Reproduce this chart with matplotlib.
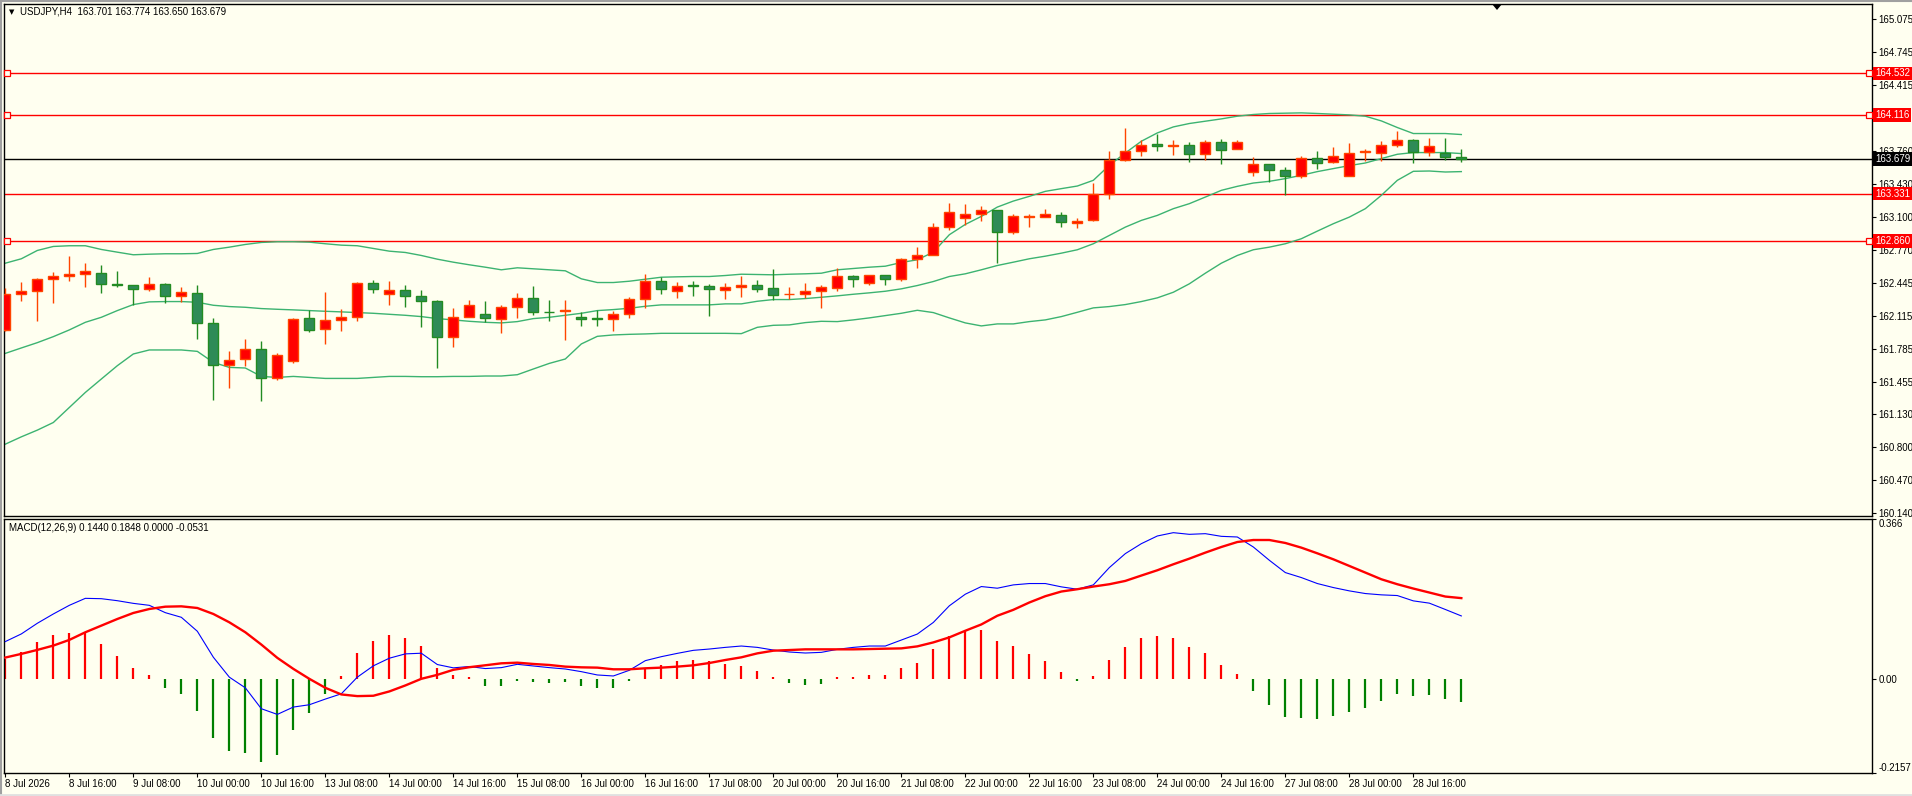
import numpy as np
import matplotlib.pyplot as plt
from matplotlib.patches import Rectangle, Polygon

plt.rcParams['font.family'] = ['Liberation Sans', 'DejaVu Sans']

# ---- USDJPY H4 candles (8 Jul 00:00 .. 29 Jul 04:00) ----
opens = [161.972, 162.332, 162.358, 162.478, 162.508, 162.528, 162.542, 162.435, 162.422, 162.378,
         162.435, 162.308, 162.342, 162.042, 161.618, 161.682, 161.782, 161.495, 161.658, 162.092,
         161.978, 162.072, 162.098, 162.445, 162.328, 162.375, 162.315, 162.265, 161.898, 162.098,
         162.132, 162.082, 162.198, 162.292, 162.152, 162.160, 162.102, 162.088, 162.078, 162.128,
         162.278, 162.465, 162.358, 162.415, 162.412, 162.368, 162.398, 162.422, 162.395, 162.328,
         162.328, 162.358, 162.388, 162.512, 162.438, 162.522, 162.478, 162.678, 162.718, 162.998,
         163.092, 163.132, 163.165, 162.948, 163.098, 163.098, 163.122, 163.038, 163.072, 163.332,
         163.668, 163.762, 163.825, 163.812, 163.822, 163.732, 163.852, 163.782, 163.552, 163.632,
         163.572, 163.512, 163.692, 163.652, 163.512, 163.748, 163.738, 163.822, 163.872, 163.745,
         163.742, 163.701]
highs = [162.392, 162.455, 162.492, 162.552, 162.705, 162.635, 162.615, 162.562, 162.422, 162.505,
         162.442, 162.405, 162.425, 162.095, 161.765, 161.885, 161.865, 161.742, 162.092, 162.172,
         162.355, 162.178, 162.455, 162.475, 162.465, 162.418, 162.375, 162.275, 162.195, 162.275,
         162.265, 162.222, 162.345, 162.415, 162.275, 162.275, 162.148, 162.172, 162.165, 162.298,
         162.535, 162.498, 162.448, 162.465, 162.432, 162.445, 162.515, 162.475, 162.575, 162.405,
         162.445, 162.425, 162.592, 162.525, 162.522, 162.522, 162.692, 162.795, 163.035, 163.235,
         163.225, 163.205, 163.172, 163.132, 163.125, 163.175, 163.145, 163.092, 163.435, 163.755,
         163.985, 163.865, 163.932, 163.865, 163.845, 163.865, 163.875, 163.865, 163.702, 163.632,
         163.598, 163.705, 163.762, 163.795, 163.835, 163.782, 163.855, 163.955, 163.882, 163.885,
         163.885, 163.774]
lows = [161.965, 162.265, 162.058, 162.238, 162.465, 162.405, 162.345, 162.398, 162.225, 162.358,
        162.238, 162.252, 161.878, 161.268, 161.388, 161.615, 161.258, 161.468, 161.638, 161.948,
        161.828, 161.965, 162.058, 162.338, 162.218, 162.205, 162.005, 161.588, 161.805, 162.098,
        162.055, 161.945, 162.088, 162.125, 162.058, 161.875, 162.015, 162.015, 161.965, 162.095,
        162.195, 162.335, 162.295, 162.315, 162.115, 162.285, 162.305, 162.348, 162.272, 162.285,
        162.288, 162.188, 162.365, 162.405, 162.425, 162.418, 162.458, 162.588, 162.718, 162.965,
        163.018, 163.058, 162.638, 162.928, 162.998, 163.098, 162.998, 162.988, 163.058, 163.278,
        163.658, 163.708, 163.758, 163.718, 163.648, 163.672, 163.632, 163.782, 163.508, 163.452,
        163.322, 163.488, 163.578, 163.638, 163.512, 163.658, 163.658, 163.798, 163.638, 163.708,
        163.665, 163.650]
closes = [162.332, 162.362, 162.482, 162.512, 162.535, 162.562, 162.428, 162.418, 162.378, 162.432,
          162.308, 162.352, 162.042, 161.618, 161.672, 161.782, 161.492, 161.722, 162.085, 161.975,
          162.072, 162.102, 162.445, 162.378, 162.372, 162.308, 162.258, 161.898, 162.102, 162.222,
          162.088, 162.202, 162.292, 162.148, 162.148, 162.165, 162.078, 162.083, 162.132, 162.285,
          162.465, 162.378, 162.412, 162.410, 162.378, 162.402, 162.422, 162.378, 162.318, 162.332,
          162.362, 162.402, 162.512, 162.478, 162.522, 162.478, 162.682, 162.722, 163.002, 163.152,
          163.132, 163.165, 162.948, 163.105, 163.102, 163.128, 163.048, 163.062, 163.332, 163.672,
          163.762, 163.822, 163.812, 163.818, 163.732, 163.852, 163.772, 163.852, 163.632, 163.572,
          163.512, 163.692, 163.642, 163.712, 163.742, 163.752, 163.822, 163.872, 163.745, 163.812,
          163.698, 163.679]

# ---- Bollinger bands ----
bb_upper = [162.638, 162.682, 162.765, 162.805, 162.812, 162.812, 162.775, 162.748, 162.722, 162.728,
            162.732, 162.732, 162.735, 162.775, 162.798, 162.825, 162.845, 162.852, 162.852, 162.848,
            162.832, 162.818, 162.812, 162.785, 162.758, 162.745, 162.715, 162.678, 162.648, 162.622,
            162.598, 162.572, 162.592, 162.582, 162.572, 162.562, 162.482, 162.445, 162.445, 162.458,
            162.478, 162.498, 162.502, 162.505, 162.505, 162.515, 162.528, 162.525, 162.522, 162.528,
            162.532, 162.538, 162.572, 162.585, 162.598, 162.608, 162.645, 162.672, 162.748, 162.922,
            163.025, 163.105, 163.198, 163.258, 163.305, 163.355, 163.382, 163.408, 163.465, 163.615,
            163.738, 163.855, 163.938, 163.998, 164.032, 164.055, 164.078, 164.105, 164.122, 164.132,
            164.135, 164.138, 164.132, 164.125, 164.118, 164.105, 164.058, 163.992, 163.932, 163.932,
            163.932, 163.922]
bb_middle = [161.738, 161.792, 161.845, 161.905, 161.972, 162.048, 162.098, 162.165, 162.225, 162.252,
             162.255, 162.255, 162.248, 162.218, 162.205, 162.198, 162.185, 162.178, 162.172, 162.165,
             162.158, 162.152, 162.145, 162.138, 162.128, 162.118, 162.105, 162.085, 162.072, 162.058,
             162.048, 162.042, 162.055, 162.085, 162.098, 162.118, 162.138, 162.165, 162.175, 162.188,
             162.208, 162.222, 162.222, 162.222, 162.222, 162.232, 162.232, 162.258, 162.275, 162.275,
             162.285, 162.298, 162.312, 162.328, 162.342, 162.358, 162.382, 162.415, 162.455, 162.505,
             162.532, 162.572, 162.615, 162.648, 162.682, 162.708, 162.738, 162.772, 162.832, 162.915,
             162.998, 163.065, 163.115, 163.182, 163.232, 163.298, 163.365, 163.405, 163.438, 163.455,
             163.482, 163.515, 163.552, 163.582, 163.612, 163.638, 163.682, 163.725, 163.742, 163.742,
             163.742, 163.732]
bb_lower = [160.832, 160.905, 160.972, 161.048, 161.198, 161.348, 161.482, 161.615, 161.732, 161.772,
            161.772, 161.772, 161.758, 161.648, 161.598, 161.592, 161.508, 161.498, 161.508, 161.498,
            161.488, 161.488, 161.488, 161.498, 161.508, 161.508, 161.505, 161.505, 161.508, 161.508,
            161.512, 161.512, 161.525, 161.582, 161.638, 161.682, 161.832, 161.908, 161.922, 161.928,
            161.932, 161.938, 161.938, 161.938, 161.938, 161.938, 161.935, 161.998, 162.018, 162.022,
            162.045, 162.058, 162.055, 162.072, 162.092, 162.115, 162.138, 162.168, 162.145, 162.092,
            162.042, 162.012, 162.032, 162.032, 162.055, 162.072, 162.105, 162.148, 162.192, 162.205,
            162.225, 162.255, 162.292, 162.348, 162.432, 162.538, 162.638, 162.715, 162.772, 162.798,
            162.832, 162.882, 162.958, 163.032, 163.098, 163.182, 163.315, 163.465, 163.555, 163.558,
            163.548, 163.552]

# ---- MACD(12,26,9) ----
macd_main = [0.0853, 0.1028, 0.1272, 0.1485, 0.1683, 0.1843, 0.1835, 0.1789, 0.1728, 0.1683,
             0.1515, 0.1409, 0.1089, 0.0495, 0.0038, -0.0206, -0.0685, -0.0815, -0.0647, -0.0594,
             -0.0464, -0.0343, 0.0038, 0.0297, 0.0472, 0.0571, 0.0586, 0.0327, 0.0251, 0.0282,
             0.0235, 0.0256, 0.0332, 0.0294, 0.0256, 0.0225, 0.0164, 0.0088, 0.0065, 0.0195,
             0.0416, 0.0507, 0.0583, 0.0652, 0.0682, 0.0720, 0.0751, 0.0720, 0.0659, 0.0614,
             0.0591, 0.0606, 0.0675, 0.0720, 0.0751, 0.0751, 0.0888, 0.1025, 0.1291, 0.1672,
             0.1938, 0.2113, 0.2075, 0.2151, 0.2182, 0.2182, 0.2106, 0.2052, 0.2151, 0.2547,
             0.2867, 0.3095, 0.3271, 0.3347, 0.3309, 0.3324, 0.3263, 0.3248, 0.3019, 0.2715,
             0.2433, 0.2319, 0.2182, 0.2090, 0.2014, 0.1953, 0.1923, 0.1907, 0.1785, 0.1733,
             0.1588, 0.1440]
macd_signal = [0.0487, 0.0571, 0.0662, 0.0761, 0.0891, 0.1066, 0.1218, 0.1370, 0.1508, 0.1599,
               0.1652, 0.1660, 0.1622, 0.1485, 0.1294, 0.1066, 0.0784, 0.0480, 0.0228, 0.0000,
               -0.0206, -0.0358, -0.0396, -0.0388, -0.0289, -0.0152, 0.0000, 0.0091, 0.0206, 0.0266,
               0.0310, 0.0355, 0.0370, 0.0340, 0.0317, 0.0279, 0.0263, 0.0256, 0.0218, 0.0218,
               0.0241, 0.0256, 0.0279, 0.0309, 0.0362, 0.0431, 0.0492, 0.0583, 0.0644, 0.0659,
               0.0675, 0.0675, 0.0675, 0.0675, 0.0682, 0.0690, 0.0697, 0.0743, 0.0834, 0.0949,
               0.1101, 0.1245, 0.1444, 0.1580, 0.1748, 0.1892, 0.1999, 0.2052, 0.2113, 0.2166,
               0.2242, 0.2365, 0.2486, 0.2623, 0.2752, 0.2890, 0.3019, 0.3133, 0.3179, 0.3179,
               0.3111, 0.3004, 0.2874, 0.2737, 0.2585, 0.2433, 0.2280, 0.2166, 0.2067, 0.1976,
               0.1884, 0.1848]
macd_hist = [0.0457, 0.0624, 0.0853, 0.1013, 0.1058, 0.1058, 0.0807, 0.0533, 0.0259, 0.0076,
             -0.0213, -0.0350, -0.0739, -0.1355, -0.1652, -0.1698, -0.1903, -0.1744, -0.1173, -0.0784,
             -0.0350, 0.0061, 0.0601, 0.0876, 0.1013, 0.0944, 0.0761, 0.0259, 0.0076, 0.0015,
             -0.0171, -0.0171, -0.0056, -0.0079, -0.0102, -0.0079, -0.0171, -0.0216, -0.0216, -0.0056,
             0.0226, 0.0324, 0.0416, 0.0438, 0.0416, 0.0347, 0.0301, 0.0187, 0.0035, -0.0102,
             -0.0148, -0.0125, 0.0012, 0.0035, 0.0096, 0.0096, 0.0256, 0.0370, 0.0690, 0.0979,
             0.1101, 0.1123, 0.0872, 0.0758, 0.0576, 0.0416, 0.0165, -0.0049, 0.0073, 0.0439,
             0.0735, 0.0941, 0.0987, 0.0941, 0.0735, 0.0598, 0.0324, 0.0119, -0.0285, -0.0605,
             -0.0879, -0.0902, -0.0925, -0.0856, -0.0765, -0.0674, -0.0514, -0.0354, -0.0400, -0.0377,
             -0.0468, -0.0531]

# horizontal levels
levels = [164.532, 164.116, 163.331, 162.860]
level_marked = [True, True, False, True]
bid = 163.679

price_ticks = [165.075, 164.745, 164.415, 164.085, 163.760, 163.430, 163.100, 162.770,
               162.445, 162.115, 161.785, 161.455, 161.130, 160.800, 160.470, 160.140]
# 164.085 sits under the 164.116 price tag, so its label stays blank
price_labels = ['165.075', '164.745', '164.415', '', '163.760', '163.430', '163.100', '162.770',
                '162.445', '162.115', '161.785', '161.455', '161.130', '160.800', '160.470', '160.140']
time_labels = ['8 Jul 2026', '8 Jul 16:00', '9 Jul 08:00', '10 Jul 00:00', '10 Jul 16:00',
               '13 Jul 08:00', '14 Jul 00:00', '14 Jul 16:00', '15 Jul 08:00', '16 Jul 00:00',
               '16 Jul 16:00', '17 Jul 08:00', '20 Jul 00:00', '20 Jul 16:00', '21 Jul 08:00',
               '22 Jul 00:00', '22 Jul 16:00', '23 Jul 08:00', '24 Jul 00:00', '24 Jul 16:00',
               '27 Jul 08:00', '28 Jul 00:00', '28 Jul 16:00']

W, H = 1912, 796
bg = '#fffff0'
fs = 7


def box(l, t, r, b):
    return [l / W, 1 - b / H, (r - l) / W, (b - t) / H]


fig = plt.figure(figsize=(W / 100, H / 100), dpi=100, facecolor=bg)
ax = fig.add_axes(box(4, 4, 1872, 516), facecolor=bg)
ax2 = fig.add_axes(box(4, 519, 1872, 773), facecolor=bg, sharex=ax)

n = len(opens)
x = np.arange(n)
xlim = ((4 - 5.33) / 16, (1872 - 5.33) / 16)

# candles
for i in range(n):
    o, h, l, c = opens[i], highs[i], lows[i], closes[i]
    up = c >= o
    edge = '#ff4500' if up else '#228b22'
    face = '#ff0000' if up else '#2e8b57'
    ax.vlines(i, l, h, colors=edge, lw=1.0, zorder=3)
    bottom = min(o, c)
    height = max(abs(c - o), 0.006)
    ax.add_patch(Rectangle((i - 0.31, bottom), 0.62, height, facecolor=face,
                           edgecolor=edge, lw=1.0, zorder=4))

ax.plot(x, bb_upper, color='#3cb371', lw=1.0, zorder=2)
ax.plot(x, bb_middle, color='#3cb371', lw=1.0, zorder=2)
ax.plot(x, bb_lower, color='#3cb371', lw=1.0, zorder=2)

for lv, mk in zip(levels, level_marked):
    ax.axhline(lv, color='#ff0000', lw=1.0, zorder=1)
    if mk:
        ax.plot([(7 - 5.33) / 16, (1869 - 5.33) / 16], [lv, lv], ls='none', marker='s',
                ms=4, mfc=bg, mec='#ff0000', mew=0.9, zorder=5, clip_on=False)
ax.axhline(bid, color='black', lw=1.0, zorder=1)

ax.set_xlim(*xlim)
ax.set_ylim(165.075 - (516 - 19) / 100.2, 165.075 + 15 / 100.2)
ax.yaxis.tick_right()
ax.set_yticks(price_ticks)
ax.set_yticklabels(price_labels)
ax.tick_params(axis='y', direction='out', length=3, width=0.8, pad=1.5, labelsize=fs)
ax.tick_params(axis='x', bottom=False, labelbottom=False)
for s in ax.spines.values():
    s.set_linewidth(1.0)

for lv in levels:
    ax.annotate('%.3f' % lv, xy=(1, lv), xycoords=('axes fraction', 'data'),
                xytext=(2.2, 0), textcoords='offset points', va='center', ha='left',
                color='white', fontsize=fs,
                bbox=dict(boxstyle='square,pad=0.18', fc='#ff0000', ec='none'),
                annotation_clip=False, zorder=10)
ax.annotate('%.3f' % bid, xy=(1, bid), xycoords=('axes fraction', 'data'),
            xytext=(2.2, 0), textcoords='offset points', va='center', ha='left',
            color='white', fontsize=fs,
            bbox=dict(boxstyle='square,pad=0.18', fc='black', ec='none'),
            annotation_clip=False, zorder=10)

# MACD panel
hist_col = ['#ff0000' if v >= 0 else '#008000' for v in macd_hist]
hist_vals = [v if abs(v) > 0.004 else np.sign(v) * 0.004 for v in macd_hist]
ax2.vlines(x, 0, hist_vals, colors=hist_col, lw=1.6, zorder=2)
ax2.plot(x, macd_main, color='#0000ff', lw=0.8, zorder=3)
ax2.plot(x, macd_signal, color='#ff0000', lw=1.7, zorder=4)
ax2.set_ylim(-0.2157, 0.366)
ax2.yaxis.tick_right()
ax2.set_yticks([0.366, 0.0, -0.2157])
ax2.set_yticklabels(['0.366', '0.00', '-0.2157'])
ax2.tick_params(axis='y', direction='out', length=3, width=0.8, pad=1.5, labelsize=fs)
ylabs = ax2.get_yticklabels()
ylabs[0].set_va('top')
ylabs[2].set_va('bottom')
ax2.set_xticks(x[::4][:len(time_labels)])
ax2.set_xticklabels(time_labels, ha='left')
ax2.tick_params(axis='x', direction='out', length=3, width=0.8, pad=1.5, labelsize=fs)
for s in ax2.spines.values():
    s.set_linewidth(1.0)

# header texts
fig.text(9 / W, 1 - 12 / H, '\u25bc', fontsize=5, family='DejaVu Sans', va='center', ha='left')
fig.text(20 / W, 1 - 12 / H, 'USDJPY,H4  163.701 163.774 163.650 163.679',
         fontsize=fs, va='center', ha='left')
fig.text(9 / W, 1 - 528 / H, 'MACD(12,26,9) 0.1440 0.1848 0.0000 -0.0531',
         fontsize=fs, va='center', ha='left')

# chart shift marker and window frame
fig.add_artist(Polygon([(1492 / W, 1 - 4 / H), (1502 / W, 1 - 4 / H), (1497 / W, 1 - 10 / H)],
                       closed=True, transform=fig.transFigure, fc='black', ec='none'))
fig.add_artist(plt.Line2D([0, 1], [1 - 1 / H, 1 - 1 / H], transform=fig.transFigure,
                          color='#a0a0a0', lw=1.5))
fig.add_artist(plt.Line2D([1 / W, 1 / W], [0, 1], transform=fig.transFigure,
                          color='#a0a0a0', lw=1.5))
fig.add_artist(plt.Line2D([0, 1], [1 - 794.5 / H, 1 - 794.5 / H], transform=fig.transFigure,
                          color='#e0e0e0', lw=2.0))

fig.savefig('out.png', dpi=100, facecolor=bg)
